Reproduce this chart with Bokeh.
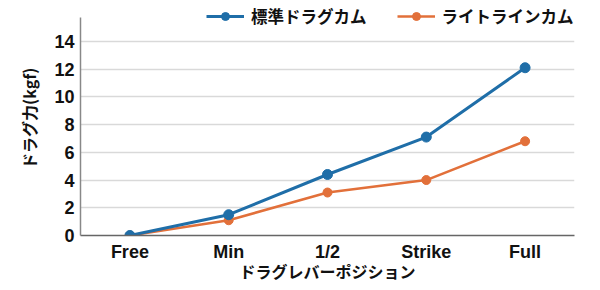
from bokeh.plotting import figure
from bokeh.models import Legend, LegendItem, FixedTicker, Range1d
from bokeh.embed import file_html
from bokeh.resources import INLINE

positions = ["Free", "Min", "1/2", "Strike", "Full"]
standard = [0, 1.5, 4.4, 7.1, 12.1]
light = [0, 1.1, 3.1, 4.0, 6.8]
series_names = ["標準ドラグカム", "ライトラインカム"]
y_ticks = [0, 2, 4, 6, 8, 10, 12, 14]

BLUE = "#1f6ea8"
ORANGE = "#e2703a"
JP = "Noto Sans CJK JP"
LAT = "Liberation Sans"

p = figure(x_range=positions, y_range=Range1d(0, 16.95), width=600, height=290,
           output_backend="svg", toolbar_location=None,
           min_border_left=80, min_border_right=26, min_border_top=0, min_border_bottom=55)
p.outline_line_color = None
p.background_fill_color = "white"
p.border_fill_color = "white"

lo = p.line(positions, light, line_color=ORANGE, line_width=2.5)
so = p.scatter(positions, light, size=9, fill_color=ORANGE, line_color=ORANGE)
lb = p.line(positions, standard, line_color=BLUE, line_width=3)
sb = p.scatter(positions, standard, size=10, fill_color=BLUE, line_color=BLUE)

p.yaxis.ticker = FixedTicker(ticks=y_ticks)
p.yaxis.bounds = (0, 15.7)
p.ygrid.grid_line_color = "#d9d9d9"
p.ygrid.grid_line_width = 1.5
p.xgrid.grid_line_color = None

for ax in (p.xaxis[0], p.yaxis[0]):
    ax.major_tick_line_color = None
    ax.minor_tick_line_color = None
    ax.major_tick_out = 0
    ax.major_tick_in = 0
    ax.major_label_text_font = LAT
    ax.major_label_text_font_style = "bold"
    ax.major_label_text_font_size = "18px"
    ax.major_label_text_color = "#111111"
    ax.axis_label_text_font = JP
    ax.axis_label_text_font_style = "bold"
    ax.axis_label_text_font_size = "16px"
    ax.axis_label_text_color = "#111111"

p.xaxis.axis_line_color = "#666666"
p.xaxis.axis_line_width = 1.5
p.yaxis.axis_line_color = "#888888"
p.yaxis.axis_line_width = 1.5
p.xaxis.axis_label = "ドラグレバーポジション"
p.yaxis.axis_label = "ドラグ力(kgf)"
p.xaxis.major_label_standoff = 6
p.xaxis.axis_label_standoff = -6
p.yaxis.major_label_standoff = 6
p.yaxis.axis_label_standoff = 10

legend = Legend(items=[LegendItem(label=series_names[0], renderers=[lb, sb]),
                       LegendItem(label=series_names[1], renderers=[lo, so])],
                orientation="horizontal", location=(126, 207),
                glyph_width=38, glyph_height=20, label_text_font=JP,
                label_text_font_style="bold", label_text_font_size="16.5px",
                label_text_color="#111111", spacing=30, padding=0, margin=0,
                border_line_color=None, background_fill_alpha=0, label_standoff=7,
                label_height=20)
p.add_layout(legend)

open("out.html", "w").write(file_html(p, INLINE))
